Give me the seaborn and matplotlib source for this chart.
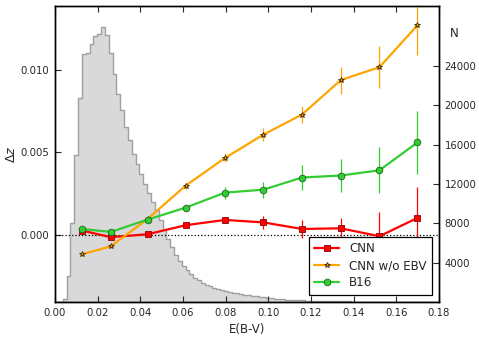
import numpy as np
import pandas as pd
import matplotlib
matplotlib.use("Agg")
import matplotlib.pyplot as plt
import seaborn as sns

# binned E(B-V) centres and the three Delta z curves
ebv = [0.0128, 0.0262, 0.0434, 0.0613, 0.0797, 0.0977, 0.1158, 0.1339, 0.1521, 0.1699]

cnn = [0.00024, -0.00016, 0.00002, 0.00057, 0.00089, 0.00074, 0.00034, 0.00038, -0.00010, 0.00101]
cnn_err = [0.0001, 0.0001, 0.0001, 0.00012, 0.0002, 0.00038, 0.00053, 0.0006, 0.0015, 0.0019]

cnn_noebv = [-0.00120, -0.00071, 0.00095, 0.00298, 0.00466, 0.00608, 0.00730, 0.00939, 0.01018, 0.01273]
cnn_noebv_err = [0.00008, 0.0001, 0.0001, 0.00018, 0.00027, 0.0004, 0.0005, 0.00083, 0.00127, 0.0018]

b16 = [0.00034, 0.00016, 0.00091, 0.00164, 0.00255, 0.00273, 0.00347, 0.00359, 0.00391, 0.00560]
b16_err = [0.0001, 0.0001, 0.0001, 0.00012, 0.00037, 0.00048, 0.00078, 0.001, 0.0014, 0.0019]

# histogram of E(B-V): 100 bins of width 0.0018 between 0 and 0.18
hist_counts = [
    0, 0, 340, 2600, 8030, 14900, 20700, 25170, 25310, 26220,
    27070, 27240, 27920, 27140, 25300, 23140, 21200, 19500, 17800, 16450,
    15030, 14080, 13060, 12040, 11090, 10170, 9320, 8380, 7460, 6440,
    5590, 4740, 4160, 3650, 3220, 2810, 2470, 2200, 1960, 1760,
    1590, 1460, 1310, 1210, 1110, 1010, 950, 880, 820, 760,
    700, 640, 580, 530, 480, 430, 390, 350, 310, 280,
    250, 225, 200, 180, 165, 150, 135, 120, 110, 100,
    90, 82, 75, 68, 62, 56, 50, 45, 40, 36,
    32, 30, 28, 26, 24, 22, 20, 18, 16, 15,
    14, 13, 12, 11, 10, 9, 8, 7, 6, 5,
]
hist_edges = np.linspace(0.0, 0.18, 101)

xticks = [0.00, 0.02, 0.04, 0.06, 0.08, 0.10, 0.12, 0.14, 0.16, 0.18]
yticks_left = [0.000, 0.005, 0.010]
yticks_right = [4000, 8000, 12000, 16000, 20000, 24000]

sns.set_style("ticks", {"xtick.direction": "in", "ytick.direction": "in"})
plt.rcParams["font.family"] = ["DejaVu Sans"]

fig = plt.figure(figsize=(4.79, 3.40), dpi=100)
ax = fig.add_axes([0.1148, 0.1118, 0.8017, 0.8706])
ax2 = ax.twinx()

centers = (hist_edges[:-1] + hist_edges[1:]) / 2
hist_df = pd.DataFrame({"ebv": centers, "n": hist_counts})
sns.histplot(data=hist_df, x="ebv", weights="n", bins=list(hist_edges), element="step",
             fill=True, color="#d9d9d9", alpha=1.0, edgecolor="#a0a0a0",
             linewidth=1.0, ax=ax2)
ax2.set_ylim(0, 30100)
ax2.set_yticks(yticks_right)
ax2.set_yticklabels([str(t) for t in yticks_right], fontsize=7.3)
ax2.set_ylabel("N", rotation=0, fontsize=8.5)
ax2.yaxis.set_label_coords(1.04, 0.93)
ax2.tick_params(axis="y", direction="in", length=4, width=0.8, pad=4)

# put the curves above the histogram
ax.set_zorder(ax2.get_zorder() + 1)
ax.patch.set_visible(False)

ax.axhline(0, color="black", linestyle=":", linewidth=0.9, zorder=1)

series = [
    ("CNN", cnn, cnn_err, "#ff0000", "s", 4.6, "#8b0000"),
    ("CNN w/o EBV", cnn_noebv, cnn_noebv_err, "#ffa500", "*", 4.3, "#3a2a00"),
    ("B16", b16, b16_err, "#33cc33", "o", 4.8, "#1a661a"),
]
for name, vals, errs, col, mk, ms, mec in series:
    ax.errorbar(ebv, vals, yerr=errs, fmt="none", ecolor=col, elinewidth=0.9,
                capsize=0, zorder=2)
    sns.lineplot(x=ebv, y=vals, color=col, marker=mk, markersize=ms,
                 markeredgecolor=mec, markeredgewidth=0.6, linewidth=1.6,
                 label=name, ax=ax, zorder=3)

ax.set_xlim(0, 0.18)
ax.set_ylim(-0.0041, 0.0139)
ax.set_xticks(xticks)
ax.set_xticklabels([f"{t:.2f}" for t in xticks], fontsize=7.3)
ax.set_yticks(yticks_left)
ax.set_yticklabels([f"{t:.3f}" for t in yticks_left], fontsize=7.3)
ax.tick_params(axis="both", direction="in", length=4, width=0.8, top=True, pad=4)
ax.set_xlabel("E(B-V)", fontsize=8.5, labelpad=4)
ax.set_ylabel(r"$\Delta z$", fontsize=9, labelpad=2)

for a in (ax, ax2):
    for s in a.spines.values():
        s.set_visible(True)
        s.set_linewidth(1.0)
        s.set_color("black")

leg = ax.legend(loc="lower right", fontsize=8.6, frameon=True, fancybox=False,
                handlelength=2.1, borderpad=0.45, labelspacing=0.35,
                borderaxespad=0.6)
leg.get_frame().set_edgecolor("black")
leg.get_frame().set_linewidth(0.9)
leg.get_frame().set_alpha(1.0)

fig.savefig("out.png", dpi=100)
